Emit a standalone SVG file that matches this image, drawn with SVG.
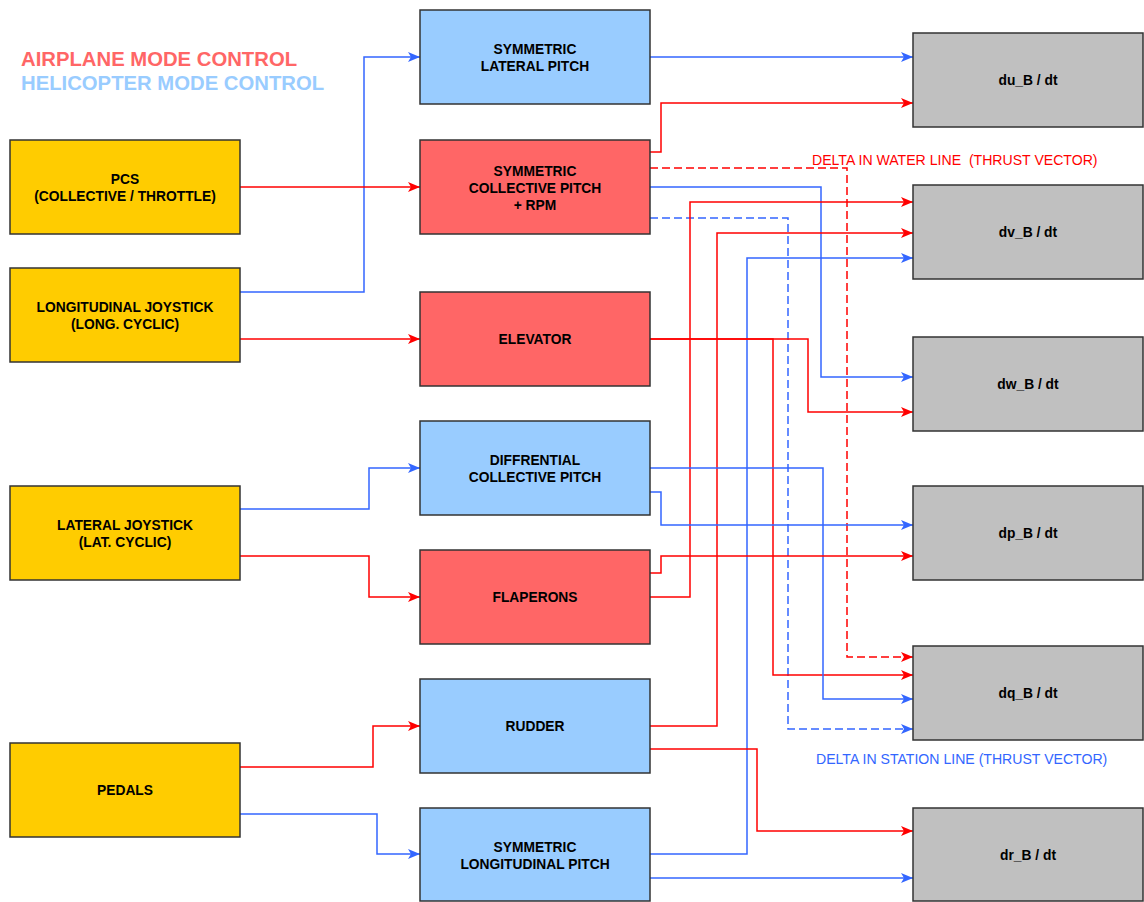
<svg xmlns="http://www.w3.org/2000/svg" width="1144" height="902" viewBox="0 0 1144 902">
<style>
.box{stroke:#333333;stroke-width:1.5}
.in{fill:#FFCC00}
.heli{fill:#99CCFF}
.air{fill:#FF6666}
.out{fill:#C0C0C0}
.t{font-family:"Liberation Sans",Arial,sans-serif;font-weight:bold;font-size:13.8px;fill:#000;text-anchor:middle}
.r{fill:none;stroke:#FF0000;stroke-width:1.5;marker-end:url(#ar)}
.b{fill:none;stroke:#3366FF;stroke-width:1.5;marker-end:url(#ab)}
.d{stroke-dasharray:8 4}
.lbl{font-family:"Liberation Sans",Arial,sans-serif;font-size:14.1px;white-space:pre}
.leg{font-family:"Liberation Sans",Arial,sans-serif;font-weight:bold;font-size:20.3px}
</style>
<defs>
<marker id="ar" markerUnits="userSpaceOnUse" markerWidth="13" markerHeight="10" refX="12" refY="5" orient="auto" viewBox="0 0 13 10">
<path d="M0,0 L12,5 L0,10 L3,5 Z" fill="#FF0000"/>
</marker>
<marker id="ab" markerUnits="userSpaceOnUse" markerWidth="13" markerHeight="10" refX="12" refY="5" orient="auto" viewBox="0 0 13 10">
<path d="M0,0 L12,5 L0,10 L3,5 Z" fill="#3366FF"/>
</marker>
</defs>
<rect width="1144" height="902" fill="#FFFFFF"/>
<text class="leg" x="21" y="66" fill="#FF6666">AIRPLANE MODE CONTROL</text>
<text class="leg" x="21" y="90" fill="#99CCFF">HELICOPTER MODE CONTROL</text>
<g id="connectors">
<path class="b" d="M240,292 H364 V57 H420"/>
<path class="r" d="M240,187 H420"/>
<path class="r" d="M240,339 H420"/>
<path class="b" d="M240,509 H369 V468 H420"/>
<path class="r" d="M240,556 H369 V597 H420"/>
<path class="r" d="M240,767 H373 V726 H420"/>
<path class="b" d="M240,814 H377 V854 H420"/>
<path class="b" d="M650,57 H913"/>
<path class="r" d="M650,152 H661 V103 H913"/>
<path class="r d" d="M650,168 H847 V657 H913"/>
<path class="b" d="M650,187 H821 V377 H913"/>
<path class="b d" d="M650,218 H788 V729 H913"/>
<path class="r" d="M650,597 H690 V202 H913"/>
<path class="r" d="M650,726 H717 V233 H913"/>
<path class="b" d="M650,854 H747 V258 H913"/>
<path class="r" d="M650,339 H808 V412 H913"/>
<path class="r" d="M650,339 H773 V675 H913"/>
<path class="b" d="M650,468 H823 V699 H913"/>
<path class="b" d="M650,492 H661 V525 H913"/>
<path class="r" d="M650,573 H661 V556 H913"/>
<path class="r" d="M650,749 H757 V831 H913"/>
<path class="b" d="M650,878 H913"/>
</g>
<text class="lbl" x="812" y="165" fill="#FF0000">DELTA IN WATER LINE  (THRUST VECTOR)</text>
<text class="lbl" x="816" y="764" fill="#3366FF">DELTA IN STATION LINE (THRUST VECTOR)</text>
<g id="pcs"><rect class="box in" x="10" y="140" width="230" height="94"/><text class="t" x="125" y="184">PCS</text><text class="t" x="125" y="201">(COLLECTIVE / THROTTLE)</text></g>
<g id="longjoy"><rect class="box in" x="10" y="268" width="230" height="94"/><text class="t" x="125" y="312">LONGITUDINAL JOYSTICK</text><text class="t" x="125" y="329">(LONG. CYCLIC)</text></g>
<g id="latjoy"><rect class="box in" x="10" y="486" width="230" height="94"/><text class="t" x="125" y="530">LATERAL JOYSTICK</text><text class="t" x="125" y="547">(LAT. CYCLIC)</text></g>
<g id="pedals"><rect class="box in" x="10" y="743" width="230" height="94"/><text class="t" x="125" y="795">PEDALS</text></g>
<g id="symlat"><rect class="box heli" x="420" y="10" width="230" height="94"/><text class="t" x="535" y="54">SYMMETRIC</text><text class="t" x="535" y="71">LATERAL PITCH</text></g>
<g id="symcol"><rect class="box air" x="420" y="140" width="230" height="94"/><text class="t" x="535" y="176">SYMMETRIC</text><text class="t" x="535" y="193">COLLECTIVE PITCH</text><text class="t" x="535" y="210">+ RPM</text></g>
<g id="elevator"><rect class="box air" x="420" y="292" width="230" height="94"/><text class="t" x="535" y="344">ELEVATOR</text></g>
<g id="diffcol"><rect class="box heli" x="420" y="421" width="230" height="94"/><text class="t" x="535" y="465">DIFFRENTIAL</text><text class="t" x="535" y="482">COLLECTIVE PITCH</text></g>
<g id="flaperons"><rect class="box air" x="420" y="550" width="230" height="94"/><text class="t" x="535" y="602">FLAPERONS</text></g>
<g id="rudder"><rect class="box heli" x="420" y="679" width="230" height="94"/><text class="t" x="535" y="731">RUDDER</text></g>
<g id="symlong"><rect class="box heli" x="420" y="808" width="230" height="93"/><text class="t" x="535" y="852">SYMMETRIC</text><text class="t" x="535" y="869">LONGITUDINAL PITCH</text></g>
<g id="du"><rect class="box out" x="913" y="33" width="230" height="94"/><text class="t" x="1028" y="85">du_B / dt</text></g>
<g id="dv"><rect class="box out" x="913" y="185" width="230" height="94"/><text class="t" x="1028" y="237">dv_B / dt</text></g>
<g id="dw"><rect class="box out" x="913" y="337" width="230" height="94"/><text class="t" x="1028" y="389">dw_B / dt</text></g>
<g id="dp"><rect class="box out" x="913" y="486" width="230" height="94"/><text class="t" x="1028" y="538">dp_B / dt</text></g>
<g id="dq"><rect class="box out" x="913" y="646" width="230" height="94"/><text class="t" x="1028" y="698">dq_B / dt</text></g>
<g id="dr"><rect class="box out" x="913" y="808" width="230" height="93"/><text class="t" x="1028" y="860">dr_B / dt</text></g>
</svg>
